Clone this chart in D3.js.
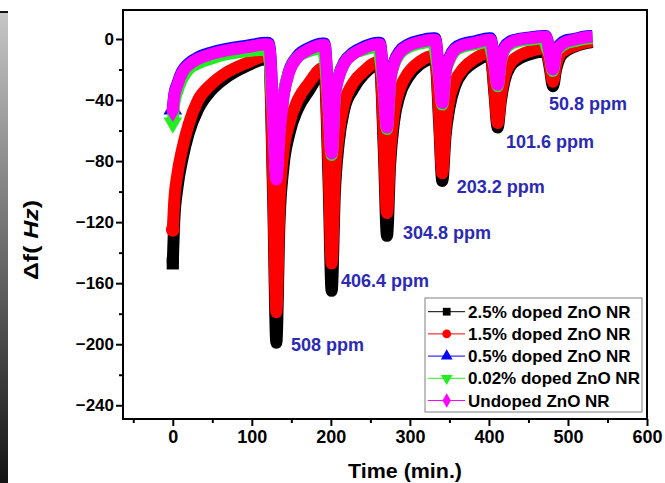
<!DOCTYPE html>
<html>
<head>
<meta charset="utf-8">
<script src="https://cdn.jsdelivr.net/npm/d3@7"></script>
<style>
body { margin: 0; background: #fff; }
svg { display: block; }
</style>
</head>
<body>
<script>
// time axis shared by every trace (min.)
var timeMin = [0, 2, 6, 12, 20, 32, 48, 68, 92, 120,
    122, 127, 131, 135, 140, 147, 158, 172, 190,
    192, 197, 201, 205, 210, 217, 228, 242, 260,
    262, 267, 271, 275, 280, 287, 298, 312, 330,
    332, 337, 341, 345, 350, 357, 368, 382, 400,
    402, 407, 411, 415, 420, 427, 438, 452, 470,
    472, 477, 481, 485, 490, 497, 508, 520, 531];

var doped25 = [-147, -118, -97, -79, -62, -46, -34, -25, -18, -13,
    -14, -105, -199, -120, -84, -63, -46, -34, -22,
    -22, -92, -165, -102, -68, -46, -33, -23, -17,
    -17, -73, -129, -82, -54, -37, -25, -17, -13,
    -13, -55, -93, -64, -45, -31, -21, -15, -11,
    -11, -36, -58, -41, -27, -18, -13, -10, -8,
    -8, -19, -31, -20, -12, -8, -5, -3, -2];

var doped15 = [-125, -105, -88, -72, -56, -40, -30, -22, -16, -11,
    -12, -95, -179, -108, -74, -56, -40, -29, -19,
    -19, -80, -147, -92, -62, -42, -29, -21, -15,
    -15, -65, -114, -74, -48, -33, -22, -15, -11,
    -11, -50, -88, -59, -40, -28, -19, -13, -9,
    -9, -33, -55, -38, -24, -16, -11, -8, -6,
    -6, -17, -28, -17, -10, -7, -4.5, -2.5, -1.5];

var doped05 = [-46, -36, -29, -21, -16, -12, -9, -6.5, -4.5, -2.5,
    -3, -49, -91, -61, -37, -21, -11, -6, -3,
    -3, -41, -74, -37, -24, -15, -9, -5, -2.5,
    -2.5, -31, -57, -27, -15, -8, -3.5, -1, 0.5,
    0.5, -23, -41, -21, -12, -6, -3, -1.5, 0.5,
    0.5, -16, -29, -13, -5, -1.5, 0, 1, 2,
    2, -9, -19, -7, -3.5, -1, 0, 1.5, 2];

var doped002 = [-55, -42, -34, -26, -20, -16, -13, -10, -8, -7,
    -12, -52, -90, -60, -37, -22, -12, -8, -6,
    -12, -44, -76, -38, -25, -16, -10, -7, -5,
    -11, -34, -59, -29, -17, -10, -5.5, -3, -2,
    -8, -25, -43, -23, -14, -8, -5, -3.5, -2,
    -6, -18, -31, -15, -7, -3.5, -1.5, -0.5, 0.5,
    -4, -11, -21, -9, -5.5, -3, -1.5, 0, 0.5];

var undoped = [-47, -37, -30, -22, -17, -13, -10, -7.5, -5.5, -3.5,
    -4, -50, -92, -62, -38, -22, -12, -7, -4,
    -4, -42, -75, -38, -25, -16, -10, -6, -3.5,
    -3.5, -32, -58, -28, -16, -9, -4.5, -2, -0.5,
    -0.5, -24, -42, -22, -13, -7, -4, -2.5, -0.5,
    -0.5, -17, -30, -14, -6, -2.5, -0.5, 0.5, 1.5,
    1.5, -10, -20, -8, -4.5, -2, -0.5, 1, 1.5];

var seriesNames = ['2.5% doped ZnO NR', '1.5% doped ZnO NR', '0.5% doped ZnO NR', '0.02% doped ZnO NR', 'Undoped ZnO NR'];
var seriesValues = [doped25, doped15, doped05, doped002, undoped];
var seriesColors = ['#000000', '#ff0000', '#0000ff', '#22ee22', '#ff00ff'];

// concentration labels, anchored in data units (time, Hz)
var ppmLabels = ['508 ppm', '406.4 ppm', '304.8 ppm', '203.2 ppm', '101.6 ppm', '50.8 ppm'];
var ppmAnchorT = [149.5, 212.8, 291.3, 359.2, 421.6, 476];
var ppmAnchorV = [-200.5, -158, -126.5, -96.8, -67.3, -42.6];

var xTicks = [0, 100, 200, 300, 400, 500, 600];
var xMinor = [-50, 50, 150, 250, 350, 450, 550];
var yTicks = [-240, -200, -160, -120, -80, -40, 0];
var yMinor = [-220, -180, -140, -100, -60, -20];

var fontFam = '"Liberation Sans", Arial, sans-serif';

function markerPath (i, size) {
    var types = [d3.symbolSquare, d3.symbolCircle, d3.symbolTriangle, d3.symbolTriangle, d3.symbolDiamond];
    return d3.symbol().type(types[i]).size(size)();
}

function drawChart () {
    var width = 665,
        height = 483;

    var svg = d3.select("body").append("svg")
        .attr("width", width)
        .attr("height", height)
        .style("font-family", fontFam)
        .style("font-weight", "bold");

    // grey strip on the left edge
    var grad = svg.append("defs").append("linearGradient")
        .attr("id", "strip").attr("x1", 0).attr("y1", 0).attr("x2", 0).attr("y2", 1);
    grad.append("stop").attr("offset", "0%").attr("stop-color", "#c6c6c6");
    grad.append("stop").attr("offset", "100%").attr("stop-color", "#141414");
    svg.append("rect").attr("x", 0).attr("y", 12).attr("width", 8).attr("height", height - 12)
        .style("fill", "url(#strip)");
    svg.append("rect").attr("x", 0).attr("y", 11).attr("width", 8).attr("height", 2).style("fill", "#111");

    var x = d3.scaleLinear().domain([-63, 600]).range([123, 647]);
    var y = d3.scaleLinear().domain([-249, 19]).range([419, 10]);

    svg.select("defs").append("clipPath").attr("id", "plotclip")
        .append("rect").attr("x", 123).attr("y", 10).attr("width", 524).attr("height", 409);

    var plot = svg.append("g").attr("clip-path", "url(#plotclip)");

    var line = d3.line()
        .x(function (d) { return x(d[0]); })
        .y(function (d) { return y(d[1]); })
        .curve(d3.curveMonotoneX);

    seriesValues.forEach(function (vals, i) {
        var pts = timeMin.map(function (t, k) { return [t, vals[k]]; });
        plot.append("path")
            .datum(pts)
            .attr("d", line)
            .style("fill", "none")
            .style("stroke", seriesColors[i])
            .style("stroke-width", 12)
            .style("stroke-linejoin", "round");
        // end markers only, the dense scatter reads as a solid band
        plot.append("path")
            .attr("d", markerPath(i, 150))
            .attr("transform", "translate(" + x(pts[0][0]) + "," + y(pts[0][1]) + ")" + (i === 3 ? " rotate(180)" : ""))
            .style("fill", seriesColors[i]);
    });

    // concentration labels
    svg.append("g").selectAll("text")
        .data(ppmLabels)
        .enter().append("text")
        .attr("x", function (d, i) { return x(ppmAnchorT[i]); })
        .attr("y", function (d, i) { return y(ppmAnchorV[i]); })
        .attr("dy", "0.36em")
        .style("fill", "#2a2ab4")
        .style("font-size", "18px")
        .text(function (d) { return d; });

    // axes
    var xAxis = svg.append("g").attr("transform", "translate(0,419)")
        .call(d3.axisBottom(x).tickValues(xTicks).tickSize(7).tickPadding(4).tickFormat(d3.format("d")));
    svg.append("g").attr("transform", "translate(0,419)")
        .call(d3.axisBottom(x).tickValues(xMinor).tickSize(4).tickFormat(""));
    var yAxis = svg.append("g").attr("transform", "translate(123,0)")
        .call(d3.axisLeft(y).tickValues(yTicks).tickSize(7).tickPadding(2).tickFormat(d3.format("d")));
    svg.append("g").attr("transform", "translate(123,0)")
        .call(d3.axisLeft(y).tickValues(yMinor).tickSize(4).tickFormat(""));

    svg.selectAll(".domain").remove();
    svg.selectAll(".tick line").style("stroke", "#000").style("stroke-width", 2);
    xAxis.selectAll("text").style("font-size", "18px").style("font-family", fontFam).style("font-weight", "bold").style("fill", "#000");
    yAxis.selectAll("text").style("font-size", "17px").style("font-family", fontFam).style("font-weight", "bold").style("fill", "#000");

    svg.append("rect")
        .attr("x", 123).attr("y", 10).attr("width", 524).attr("height", 409)
        .style("fill", "none").style("stroke", "#000").style("stroke-width", 2);

    // axis titles
    svg.append("text")
        .attr("x", 405).attr("y", 477.5)
        .attr("text-anchor", "middle")
        .attr("textLength", 114).attr("lengthAdjust", "spacingAndGlyphs")
        .style("font-size", "20px")
        .text("Time (min.)");

    var yTitle = svg.append("text")
        .attr("transform", "translate(37.5,240) rotate(-90)")
        .attr("text-anchor", "middle")
        .attr("textLength", 80).attr("lengthAdjust", "spacingAndGlyphs")
        .style("font-size", "21px");
    yTitle.append("tspan").text("\u0394f( ");
    yTitle.append("tspan").style("font-style", "italic").text("Hz");
    yTitle.append("tspan").text(")");

    // legend
    var legend = svg.append("g").attr("transform", "translate(425,298)");
    legend.append("rect")
        .attr("width", 217).attr("height", 114)
        .style("fill", "#fff").style("stroke", "#808080").style("stroke-width", 1);
    var rows = legend.selectAll("g.row")
        .data(seriesNames)
        .enter().append("g")
        .attr("class", "row")
        .attr("transform", function (d, i) { return "translate(0," + (13.7 + i * 22.2) + ")"; });
    rows.append("line")
        .attr("x1", 3).attr("x2", 40)
        .style("stroke", function (d, i) { return seriesColors[i]; })
        .style("stroke-width", 1);
    rows.append("path")
        .attr("d", function (d, i) { return markerPath(i, 60); })
        .attr("transform", function (d, i) { return "translate(21.7,0)" + (i === 3 ? " rotate(180)" : ""); })
        .style("fill", function (d, i) { return seriesColors[i]; });
    rows.append("text")
        .attr("x", 43).attr("dy", "0.36em")
        .style("font-size", "17px")
        .text(function (d) { return d; });
}

drawChart();
</script>
</body>
</html>
